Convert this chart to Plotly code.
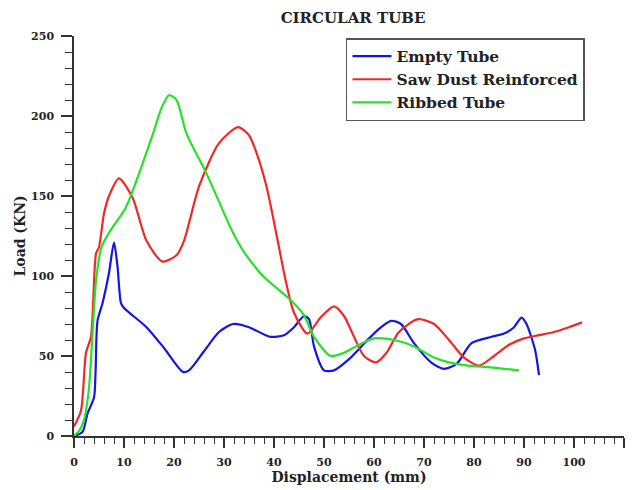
import plotly.graph_objects as go

empty_x = [0, 1.7, 2.7, 4, 4.3, 4.7, 5.7, 7, 8, 8.7, 9.4, 10, 14.5, 18, 21.8, 23, 26, 29, 31.8, 35, 39.2, 42, 44, 46, 47, 48, 50, 52, 55, 58.7, 61, 63.4, 65.4, 68, 71.4, 74, 76.5, 79.5, 83.5, 86, 88, 89.5, 90.5, 92.2, 93]
empty_y = [0, 2.5, 14, 24, 39, 72, 83, 102, 121, 106, 83, 80, 68, 55, 40, 41, 53, 65, 70, 68, 62, 63, 68, 75, 73, 56, 41, 41, 48, 60, 67, 72, 70, 58, 46, 42, 45, 58, 62, 64, 68, 74, 70, 54, 38]

saw_x = [0, 1.4, 2.4, 3.4, 4.4, 5, 6, 7, 9, 11.7, 14.5, 17.7, 20.5, 22, 25, 29, 32.8, 35, 36.5, 38.5, 41, 42, 44, 46.7, 49.3, 52, 54, 56, 58, 60.4, 62.5, 65, 68.8, 72, 75, 78, 81, 84, 87, 90, 93, 96, 99, 101.6]
saw_y = [6, 16, 52, 62, 114, 118, 139, 150, 161, 149, 122, 109, 113, 122, 156, 183, 193, 188, 177, 156, 118, 102, 77, 64, 74, 81, 75, 62, 50, 46, 52, 65, 73, 70, 60, 49, 44, 50, 57, 61, 63, 65, 68, 71]

rib_x = [0, 1, 2, 3, 4.4, 5.5, 7, 10.4, 13, 15.8, 17.5, 19, 20.5, 22.5, 26.5, 31.8, 34, 37.8, 43.3, 45.9, 48, 51.3, 54, 57, 60, 64, 68, 72, 75, 78.8, 83, 86, 89]
rib_y = [0, 3, 10, 30, 97, 118, 127, 143, 164, 189, 205, 213, 210, 189, 164, 127, 115, 100, 85, 76, 62, 50, 52, 57, 61, 60, 56, 49, 46, 44, 43, 42, 41]

x_ticks = list(range(0, 111, 10))
y_ticks = list(range(0, 251, 50))

serif = "DejaVu Serif, serif"

fig = go.Figure()
fig.add_trace(go.Scatter(x=empty_x, y=empty_y, mode="lines", name="<b>Empty Tube</b>",
                         line=dict(color="#1414e6", width=2.2, shape="spline", smoothing=0.7)))
fig.add_trace(go.Scatter(x=saw_x, y=saw_y, mode="lines", name="<b>Saw Dust Reinforced</b>",
                         line=dict(color="#f02828", width=2.2, shape="spline", smoothing=0.7)))
fig.add_trace(go.Scatter(x=rib_x, y=rib_y, mode="lines", name="<b>Ribbed Tube</b>",
                         line=dict(color="#28e028", width=2.2, shape="spline", smoothing=0.7)))

fig.update_layout(
    width=625, height=482,
    margin=dict(l=66, r=9, t=28, b=54, autoexpand=False),
    paper_bgcolor="white", plot_bgcolor="white",
    title=dict(text="<b>CIRCULAR TUBE</b>", x=0.552, xanchor="center", y=0.979, yanchor="middle",
               font=dict(family=serif, size=15, color="#222"), automargin=False),
    legend=dict(x=0.4945, y=0.995, xanchor="left", yanchor="top",
                bordercolor="#555", borderwidth=1.5, bgcolor="white",
                font=dict(family=serif, size=15.5, color="#222"),
                itemwidth=39, tracegroupgap=0),
    showlegend=True,
)
fig.update_xaxes(
    range=[0, 110], tickvals=x_ticks, ticktext=[f"<b>{v}</b>" for v in x_ticks],
    showgrid=False, zeroline=False, showline=True, linecolor="#333", linewidth=1.5,
    ticks="outside", ticklen=10, tickwidth=1.5, tickcolor="#333", automargin=False,
    ticklabelstandoff=5,
    minor=dict(dtick=2, ticks="outside", ticklen=6, tickwidth=1.2, tickcolor="#333", showgrid=False),
    tickfont=dict(family=serif, size=11, color="#222"),
    title=dict(text="<b>Displacement (mm)</b>", font=dict(family=serif, size=14, color="#222"), standoff=3),
)
fig.update_yaxes(
    range=[0, 250], tickvals=y_ticks, ticktext=[f"<b>{v}</b>" for v in y_ticks],
    showgrid=False, zeroline=False, showline=True, linecolor="#333", linewidth=1.5,
    ticks="outside", ticklen=11, tickwidth=1.5, tickcolor="#333", automargin=False,
    ticklabelstandoff=5,
    minor=dict(dtick=10, ticks="outside", ticklen=7, tickwidth=1.2, tickcolor="#333", showgrid=False),
    tickfont=dict(family=serif, size=11, color="#222"),
    title=dict(text="<b>Load (KN)</b>", font=dict(family=serif, size=14, color="#222"), standoff=2),
)

fig.write_html("out.html")
